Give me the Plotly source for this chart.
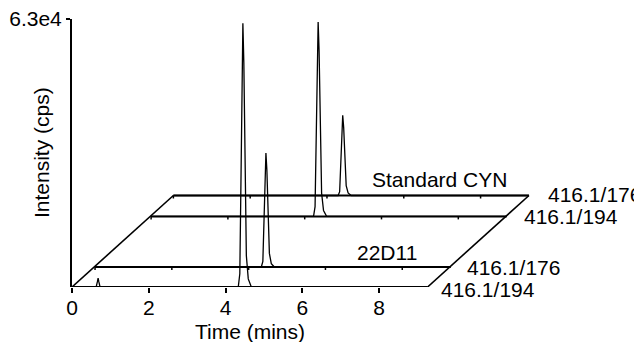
import plotly.graph_objects as go

# ---------------- data ----------------
run_end = 9.26                      # minutes, length of each trace
x_tick_vals = [0, 2, 4, 6, 8]
y_max = 63000
y_tick_text = "6.3e4"

lane_labels = ["416.1/194", "416.1/176", "416.1/194", "416.1/176"]
sample_labels = ["22D11", "Standard CYN"]

# 22D11, 416.1/194
t_22d11_194 = [0.00, 0.63, 0.66, 0.68, 0.70, 0.73,
               4.33, 4.37, 4.40, 4.425, 4.45, 4.475, 4.505, 4.54, 4.59, 4.67, 9.26]
i_22d11_194 = [0, 0, 1200, 2100, 1200, 0,
               0, 3100, 24800, 52700, 62000, 52700, 27900, 7400, 1900, 0, 0]
# 22D11, 416.1/176
t_22d11_176 = [0.00, 4.33, 4.37, 4.40, 4.425, 4.45, 4.475, 4.505, 4.54, 4.59, 4.67, 9.26]
i_22d11_176 = [0, 0, 1300, 10700, 22800, 26800, 22800, 12100, 3200, 800, 0, 0]
# Standard CYN, 416.1/194
t_std_194 = [0.00, 4.23, 4.27, 4.30, 4.325, 4.35, 4.375, 4.405, 4.44, 4.49, 4.57, 9.26]
i_std_194 = [0, 0, 2300, 18300, 38800, 45700, 38800, 20600, 5500, 1400, 0, 0]
# Standard CYN, 416.1/176
t_std_176 = [0.00, 4.29, 4.33, 4.36, 4.385, 4.41, 4.435, 4.465, 4.50, 4.55, 4.63, 9.26]
i_std_176 = [0, 0, 900, 7500, 16000, 18850, 16000, 8500, 2300, 600, 0, 0]

series_t = [t_22d11_194, t_22d11_176, t_std_194, t_std_176]
series_i = [i_22d11_194, i_22d11_176, i_std_194, i_std_176]

# ---------------- pseudo-3D stacking layout ----------------
OFF = 8                      # page body margin
W, H = 642 - OFF, 342 - OFF
ML, MR, MT, MB = 72 - OFF, 0, 19 - OFF, 55
PX_PER_MIN = 38.4
plot_w = W - ML - MR
plot_h = H - MT - MB
CPS_PER_PX = y_max / plot_h

lane_dx = [0.0, 0.60, 2.06, 2.64]            # minutes
lane_dy_px = [0, 20, 70.6, 91.5]
lane_dy = [p * CPS_PER_PX for p in lane_dy_px]

FONT = "Liberation Sans, Arial, Helvetica, sans-serif"
FS = 21

fig = go.Figure()

# lane baselines
for k in range(4):
    fig.add_trace(go.Scatter(
        x=[lane_dx[k], lane_dx[k] + run_end], y=[lane_dy[k], lane_dy[k]],
        mode="lines", line=dict(color="black", width=2), hoverinfo="skip"))

# diagonal edges of the floor
fig.add_trace(go.Scatter(x=[lane_dx[0], lane_dx[3]], y=[lane_dy[0], lane_dy[3]],
                         mode="lines", line=dict(color="black", width=1.6), hoverinfo="skip"))
fig.add_trace(go.Scatter(x=[lane_dx[0] + run_end, lane_dx[3] + run_end], y=[lane_dy[0], lane_dy[3]],
                         mode="lines", line=dict(color="black", width=1.6), hoverinfo="skip"))

# small ticks on the back lanes
tick_len = 3 * CPS_PER_PX
tx, ty = [], []
for k in range(1, 4):
    for v in x_tick_vals:
        tx += [lane_dx[k] + v, lane_dx[k] + v, None]
        ty += [lane_dy[k], lane_dy[k] - tick_len, None]
fig.add_trace(go.Scatter(x=tx, y=ty, mode="lines", line=dict(color="black", width=1.5),
                         hoverinfo="skip"))

# chromatograms
for k in range(4):
    fig.add_trace(go.Scatter(
        x=[lane_dx[k] + t for t in series_t[k]],
        y=[lane_dy[k] + v for v in series_i[k]],
        mode="lines", line=dict(color="black", width=1.3), hoverinfo="skip"))

annotations = []
# lane labels
label_xshift = [11, 14, 15, 17]
label_yshift = [-2, 0, 0, 1]
for k in range(4):
    annotations.append(dict(
        x=lane_dx[k] + run_end, y=lane_dy[k], xref="x", yref="y",
        text=lane_labels[k], showarrow=False, xanchor="left", yanchor="middle",
        xshift=label_xshift[k], yshift=label_yshift[k],
        font=dict(family=FONT, size=FS, color="black")))
# sample labels
annotations.append(dict(x=lane_dx[1] + 7.6, y=lane_dy[1], xref="x", yref="y",
                        text=sample_labels[0], showarrow=False, xanchor="center",
                        yanchor="middle", yshift=15,
                        font=dict(family=FONT, size=FS, color="black")))
annotations.append(dict(x=lane_dx[3] + 6.94, y=lane_dy[3], xref="x", yref="y",
                        text=sample_labels[1], showarrow=False, xanchor="center",
                        yanchor="middle", yshift=16,
                        font=dict(family=FONT, size=FS, color="black")))
# axis titles
annotations.append(dict(x=run_end / 2, y=0, xref="x", yref="y", text="Time (mins)",
                        showarrow=False, xanchor="center", yanchor="middle", yshift=-44,
                        font=dict(family=FONT, size=FS, color="black")))
annotations.append(dict(x=0, y=y_max / 2, xref="x", yref="y", text="Intensity (cps)",
                        showarrow=False, xanchor="center", yanchor="middle", xshift=-31,
                        textangle=-90, font=dict(family=FONT, size=FS, color="black")))

fig.update_layout(
    width=W, height=H, margin=dict(l=ML, r=MR, t=MT, b=MB, pad=0, autoexpand=False),
    paper_bgcolor="white", plot_bgcolor="white", showlegend=False,
    font=dict(family=FONT, size=FS, color="black"),
    annotations=annotations,
    xaxis=dict(range=[0, plot_w / PX_PER_MIN], tickvals=x_tick_vals, automargin=False,
               ticks="outside", ticklen=5, tickwidth=2, tickcolor="black",
               ticklabelstandoff=-3,
               showline=False, showgrid=False, zeroline=False,
               tickfont=dict(family=FONT, size=FS, color="black")),
    yaxis=dict(range=[0, y_max], tickvals=[y_max], ticktext=[y_tick_text], automargin=False,
               ticks="outside", ticklen=4, tickwidth=1.5, tickcolor="black",
               ticklabeloverflow="allow",
               showline=True, linewidth=2, linecolor="black",
               showgrid=False, zeroline=False,
               tickfont=dict(family=FONT, size=FS, color="black")),
)

fig.write_html("out.html")
